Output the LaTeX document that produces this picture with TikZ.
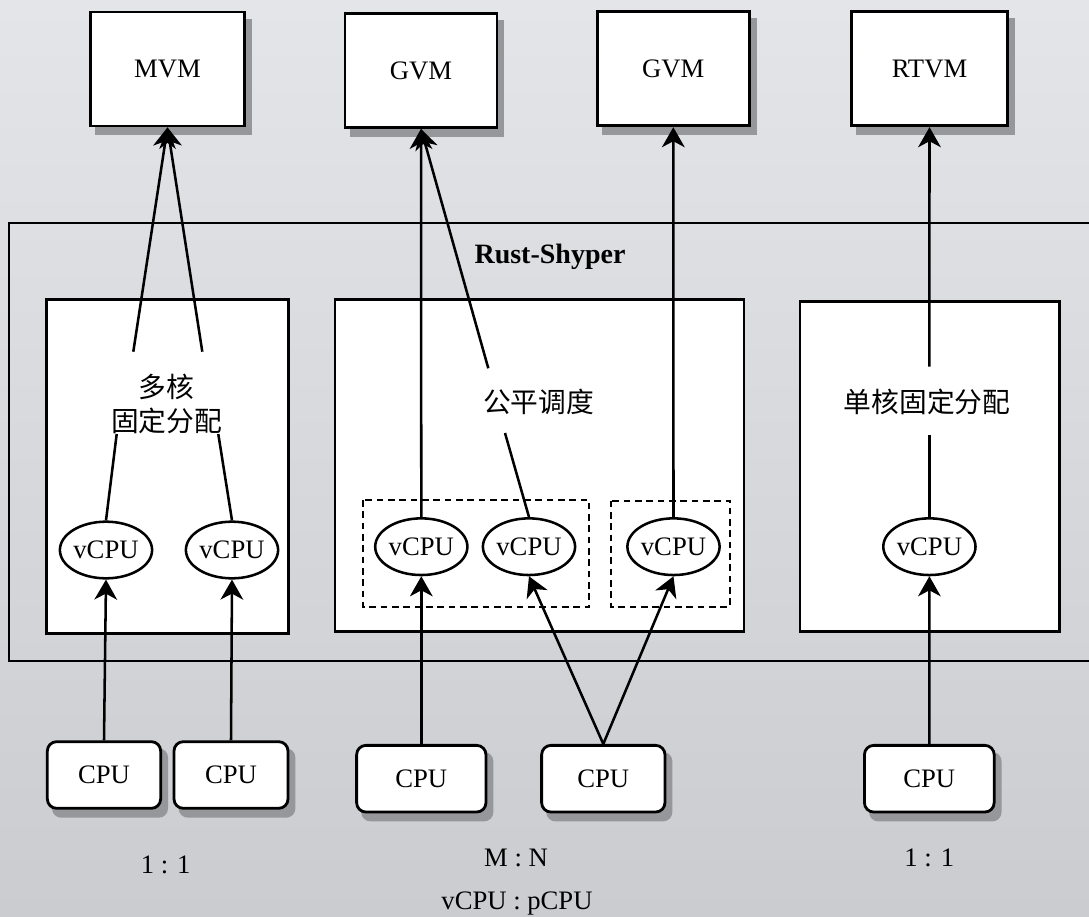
\documentclass[tikz,border=0pt]{standalone}
\usepackage{fontspec}
\setmainfont{Liberation Serif}
\newfontfamily\cjkfont{Noto Sans CJK SC}
\usetikzlibrary{shapes.geometric,arrows.meta}
\pgfdeclarelayer{bglayer}
\pgfdeclarelayer{shadowlayer}
\pgfsetlayers{bglayer,shadowlayer,main}
\definecolor{bgtop}{RGB}{228,229,233}
\definecolor{bgbot}{RGB}{202,204,208}
\definecolor{shadowcol}{RGB}{150,151,155}
\newcommand\latsize{\fontsize{20}{23}\selectfont}
\newcommand\cjksize{\cjkfont\fontsize{20.8}{25.3}\selectfont}
\begin{document}
\begin{tikzpicture}[x=0.75pt,y=-0.75pt,
  every node/.style={font=\latsize},
  vmbox/.style={draw,line width=2.1pt,fill=white,inner sep=0pt,minimum height=85.5pt},
  cpubox/.style={draw,line width=2.1pt,fill=white,rounded corners=7pt,inner sep=0pt,minimum height=50pt},
  vcpu/.style={ellipse,draw,line width=1.9pt,fill=white,inner sep=0pt,minimum width=65pt,minimum height=42.5pt},
  area/.style={draw,line width=1.9pt,fill=white},
  grp/.style={draw,line width=1.6pt,dash pattern=on 5pt off 3.5pt},
  conn/.style={line width=1.9pt},
  arr/.style={conn,-{Stealth[length=15pt,width=17pt,inset=4.5pt]}},
  lbl/.style={inner sep=0pt},
  cjklbl/.style={inner sep=0pt,align=center,font=\cjksize},
  shadowfill/.style={fill=shadowcol}]
\useasboundingbox (0,0) rectangle (1089,917);
\clip (0,0) rectangle (1089,917);
\begin{pgfonlayer}{bglayer}
\shade[top color=bgtop,bottom color=bgbot] (0,0) rectangle (1089,917);
\end{pgfonlayer}

% Rust-Shyper frame
\draw[line width=1.4pt] (9.3,222.7) rectangle (1110,660.7);
\node[lbl,font=\fontsize{21}{24}\selectfont\bfseries] (rs) at (550,257) {Rust-Shyper};

% inner areas
\draw[area] (46.7,299.3) rectangle (288.3,633.3);
\draw[area] (335,299.3) rectangle (744,631.7);
\draw[area] (800,301.7) rectangle (1059.3,631.7);

% dashed groups
\draw[grp] (362.7,500) rectangle (589.3,606.7);
\draw[grp] (611,500.7) rectangle (730,606.7);

% VMs
\node[vmbox,minimum width=116pt] (mvm) at (167.5,69) {MVM};
\node[vmbox,minimum width=114pt] (gvma) at (421,70.5) {GVM};
\node[vmbox,minimum width=114pt] (gvmb) at (673.3,68.8) {GVM};
\node[vmbox,minimum width=116.5pt] (rtvm) at (929.5,68.8) {RTVM};

% scheduling labels
\node[cjklbl] (multi) at (166.5,404) {多核\\固定分配};
\node[cjklbl] (fair) at (538.5,401.7) {公平调度};
\node[cjklbl] (single) at (927,402.3) {单核固定分配};

% vCPUs
\node[vcpu] (v1) at (106,550) {vCPU};
\node[vcpu] (v2) at (232,550) {vCPU};
\node[vcpu] (v3) at (421.3,546.7) {vCPU};
\node[vcpu] (v4) at (529,546.7) {vCPU};
\node[vcpu] (v5) at (673.5,546.7) {vCPU};
\node[vcpu] (v6) at (929.4,546.7) {vCPU};

% CPUs
\node[cpubox,minimum width=85pt] (c1) at (104,775) {CPU};
\node[cpubox,minimum width=85.5pt] (c2) at (231,775) {CPU};
\node[cpubox,minimum width=97pt] (c3) at (421.3,778.7) {CPU};
\node[cpubox,minimum width=92.5pt] (c4) at (603.3,778.7) {CPU};
\node[cpubox,minimum width=97.3pt] (c5) at (929.3,778.7) {CPU};

% shadows of the VM and CPU boxes
\begin{pgfonlayer}{shadowlayer}
\foreach \n in {mvm,gvma,gvmb,rtvm}
  \fill[shadowfill] ([shift={(6,8)}]\n.south west) rectangle ([shift={(6,8)}]\n.north east);
\foreach \n in {c1,c2,c3,c4,c5}
  \fill[shadowfill,rounded corners=7pt] ([shift={(6,8)}]\n.south west) rectangle ([shift={(6,8)}]\n.north east);
\end{pgfonlayer}

% ratios
\node[lbl] (r1) at (165.7,865) {1 : 1};
\node[lbl] (r2) at (516,858.3) {M : N};
\node[lbl] (r3) at (517,903.3) {vCPU : pCPU};
\node[lbl] (r4) at (929.3,858.3) {1 : 1};

% free ends of the segments broken by the labels
\coordinate (ma) at (133.3,351.7);
\coordinate (mb) at (202.3,351.7);
\coordinate (mc) at (116.7,434);
\coordinate (md) at (218.3,434);
\coordinate (fa) at (488.3,368.3);
\coordinate (fb) at (505,433);
\coordinate (sa) at (929.4,366.7);
\coordinate (sb) at (929.4,435);

% upward connectors to VMs
\draw[arr] (ma) -- (mvm.south);
\draw[arr] (mb) -- (mvm.south);
\draw[conn] (v1.north) -- (mc);
\draw[conn] (v2.north) -- (md);
\draw[arr] (v3.north) -- (gvma.south);
\draw[arr] (fa) -- (gvma.south);
\draw[conn] (v4.north) -- (fb);
\draw[arr] (v5.north) -- (gvmb.south);
\draw[arr] (sa) -- (rtvm.south);
\draw[conn] (v6.north) -- (sb);

% CPU to vCPU
\draw[arr] (c1.north) -- (v1.south);
\draw[arr] (c2.north) -- (v2.south);
\draw[arr] (c3.north) -- (v3.south);
\draw[arr] (c4.north) -- (v4.south);
\draw[arr] (c4.north) -- (v5.south);
\draw[arr] (c5.north) -- (v6.south);
\end{tikzpicture}
\end{document}
